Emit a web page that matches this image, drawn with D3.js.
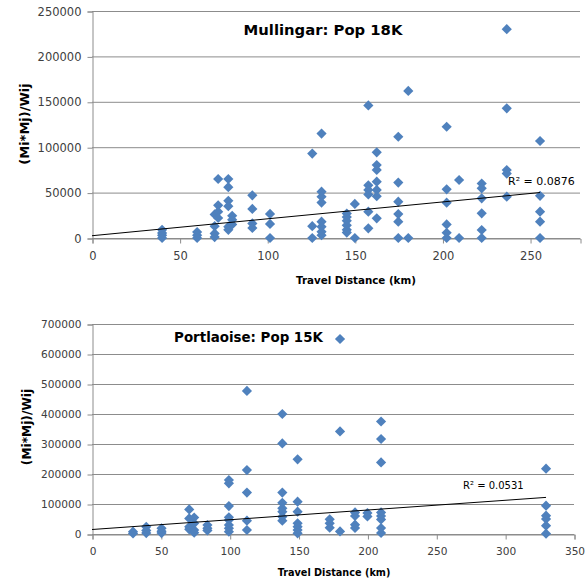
<!DOCTYPE html>
<html>
<head>
<meta charset="utf-8">
<script src="https://cdn.jsdelivr.net/npm/d3@7"></script>
<style>
  body { margin: 0; background: #fff; }
  svg text { font-family: "DejaVu Sans", sans-serif; }
</style>
</head>
<body>
<script>
// Mullingar: distance (km) and the (Mi*Mj)/Wij values read at that distance
var mullDist = [40, 60, 70, 72, 77.8, 80, 91.5, 101.6, 125.7, 131, 145.4, 150, 157.7, 162.5,
                174.8, 180.5, 202.4, 209.5, 222.4, 236.7, 255.7];
var mullVals = [
  [9000, 5500, 3000, 0],
  [6600, 3000, 0],
  [26000, 13000, 5000, 1000],
  [65000, 36000, 29000, 22000],
  [65000, 56000, 41000, 35000, 12500, 9000],
  [24500, 20000, 15000],
  [47000, 32000, 16000, 11000],
  [26500, 15500, 0],
  [93000, 13000, 0],
  [115000, 51000, 45500, 39000, 18000, 12500, 7000, 3000],
  [27000, 23000, 19000, 14000, 9000, 6000],
  [37500, 0],
  [146000, 58000, 53000, 48000, 29000, 10700],
  [94400, 80400, 75000, 62000, 53000, 46000, 21700],
  [111500, 61000, 40000, 26400, 18000, 0],
  [162000, 0],
  [122500, 53600, 38900, 15000, 5800, 0],
  [63900, 0],
  [60000, 54700, 43700, 27200, 8800, 0],
  [230000, 142800, 74900, 71000, 45500],
  [106800, 46500, 29000, 18000, 0]
];

// Portlaoise
var portDist = [29.8, 39.4, 50.5, 70.6, 74.2, 83.8, 99.4, 112.5, 138.2, 149.3, 172.6, 180.1,
                191, 200, 209.9, 329.7];
var portVals = [
  [7700, 2000],
  [24000, 12000, 3000],
  [19000, 9000, 3000],
  [82000, 52000, 24000, 15500],
  [55000, 35600, 13300, 4400],
  [30000, 19000, 12000],
  [180000, 169000, 93000, 55600, 46700, 30000, 19000, 7700],
  [477000, 213000, 138000, 44400, 13300],
  [400000, 302000, 138000, 104000, 85600, 74400, 57800, 44400],
  [249000, 107700, 74400, 35600, 24300, 13300, 2200],
  [49000, 35600, 21000],
  [650000, 342000, 8700],
  [72000, 60000, 31000, 20000],
  [70000, 58700],
  [375000, 316600, 238700, 72000, 60000, 48700, 20000, 3300],
  [217700, 94300, 61000, 50000, 27700, 1000]
];

// linear trendlines
var trendIntercept = [2500, 15000];
var trendSlope = [186, 324.5];
var trendEnd = [255.7, 329.7];
var rSquared = ["R² = 0.0876", "R² = 0.0531"];

var titles = ["Mullingar: Pop 18K", "Portlaoise: Pop 15K"];
var xTicksTop = [0, 50, 100, 150, 200, 250];
var xTicksBottom = [0, 50, 100, 150, 200, 250, 300, 350];
var yTicksTop = [0, 50000, 100000, 150000, 200000, 250000];
var yTicksBottom = [0, 100000, 200000, 300000, 400000, 500000, 600000, 700000];

var svg = d3.select("body").append("svg")
    .attr("width", 587)
    .attr("height", 581);

function flatten(dist, vals) {
  var pts = [];
  dist.forEach(function(d, i) {
    vals[i].forEach(function(v) { pts.push({x: d, y: v}); });
  });
  return pts;
}

// the lower chart was pasted in a little smaller, so its text is smaller too
var charts = [
  { pts: flatten(mullDist, mullVals), xMax: 278.5, yMax: 250000,
    left: 92, right: 580, top: 11, bottom: 238,
    xTicks: xTicksTop, yTicks: yTicksTop,
    title: titles[0], titleX: 323, titleY: 35, titleSize: 14.8,
    yTitleX: 29, yTitleY: 124, yTitleSize: 13,
    xTitleX: 356, xTitleY: 284, xTitleSize: 10.3,
    tickSize: 11.5, rX: 508, rY: 185, rSize: 11 },
  { pts: flatten(portDist, portVals), xMax: 350, yMax: 700000,
    left: 92, right: 574, top: 324, bottom: 534,
    xTicks: xTicksBottom, yTicks: yTicksBottom,
    title: titles[1], titleX: 248.5, titleY: 342, titleSize: 13.4,
    yTitleX: 31, yTitleY: 427, yTitleSize: 12.2,
    xTitleX: 334, xTitleY: 576, xTitleSize: 9.7,
    tickSize: 10.6, rX: 463, rY: 489, rSize: 10 }
];

charts.forEach(function(c, ci) {
  var x = d3.scaleLinear().domain([0, c.xMax]).range([c.left, c.right]);
  var y = d3.scaleLinear().domain([0, c.yMax]).range([c.bottom, c.top]);
  var g = svg.append("g");

  // gridlines
  g.selectAll(".grid").data(c.yTicks).enter().append("line")
      .attr("x1", c.left).attr("x2", c.right)
      .attr("y1", function(d) { return y(d) + 0.5; })
      .attr("y2", function(d) { return y(d) + 0.5; })
      .attr("stroke", "#8c8c8c").attr("stroke-width", 1);

  // y axis
  var yAxis = g.append("g")
      .attr("transform", "translate(" + (c.left + 0.5) + ",0.5)")
      .call(d3.axisLeft(y).tickValues(c.yTicks).tickSize(5).tickPadding(6)
        .tickFormat(d3.format("d")));
  // x axis
  var xAxis = g.append("g")
      .attr("transform", "translate(0.5," + (c.bottom + 0.5) + ")")
      .call(d3.axisBottom(x).tickValues(c.xTicks).tickSize(5).tickPadding(8)
        .tickFormat(d3.format("d")));
  [yAxis, xAxis].forEach(function(a) {
    a.select(".domain").attr("stroke", "#8c8c8c");
    a.selectAll(".tick line").attr("stroke", "#8c8c8c");
    a.selectAll(".tick text").attr("fill", "#404040")
        .style("font-size", c.tickSize + "px").style("font-family", "DejaVu Sans");
  });

  // markers
  g.selectAll(".pt").data(c.pts).enter().append("path")
      .attr("d", d3.symbol(d3.symbolSquare, 52))
      .attr("transform", function(d) {
        return "translate(" + x(d.x) + "," + y(d.y) + ") rotate(45)";
      })
      .attr("fill", "#4f81bd");

  // trendline
  var line = d3.line()
      .x(function(d) { return x(d); })
      .y(function(d) { return y(trendIntercept[ci] + trendSlope[ci] * d); });
  g.append("path")
      .datum([0, trendEnd[ci]])
      .attr("d", line)
      .attr("fill", "none")
      .attr("stroke", "#000")
      .attr("stroke-width", 1);

  g.append("text")
      .attr("x", c.rX).attr("y", c.rY)
      .style("font-size", c.rSize + "px").attr("fill", "#000")
      .text(rSquared[ci]);

  // titles
  g.append("text")
      .attr("x", c.titleX).attr("y", c.titleY)
      .attr("text-anchor", "middle")
      .style("font-size", c.titleSize + "px").style("font-weight", "bold")
      .attr("fill", "#000")
      .text(c.title);

  g.append("text")
      .attr("transform", "translate(" + c.yTitleX + "," + c.yTitleY + ") rotate(-90)")
      .attr("text-anchor", "middle")
      .style("font-size", c.yTitleSize + "px").style("font-weight", "bold")
      .attr("fill", "#000")
      .text("(Mi*Mj)/Wij");

  g.append("text")
      .attr("x", c.xTitleX).attr("y", c.xTitleY)
      .attr("text-anchor", "middle")
      .style("font-size", c.xTitleSize + "px").style("font-weight", "bold")
      .attr("fill", "#000")
      .text("Travel Distance (km)");
});
</script>
</body>
</html>
